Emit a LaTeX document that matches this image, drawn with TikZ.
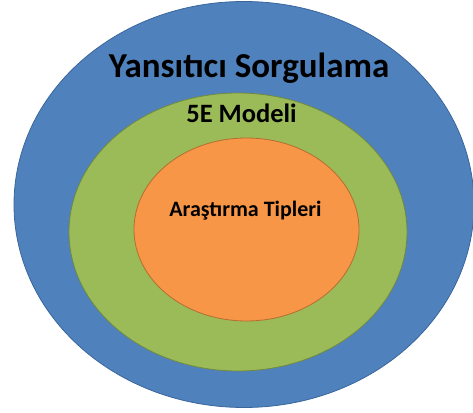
\documentclass[tikz,border=0pt]{standalone}
\usepackage{fontspec}
\setmainfont{Carlito}
\usetikzlibrary{shapes.geometric}
\definecolor{oblue}{HTML}{4F81BD}
\definecolor{oblueedge}{HTML}{3A669C}
\definecolor{ogreen}{HTML}{9BBB59}
\definecolor{ogreenedge}{HTML}{71893F}
\definecolor{oorange}{HTML}{F79646}
\definecolor{oorangeedge}{HTML}{B66D31}
\tikzset{
  ring/.style={ellipse, inner sep=0pt, line width=0.8pt},
  lbl/.style={anchor=base, inner sep=0pt, font=\bfseries, text=black}
}
\begin{document}
\begin{tikzpicture}[x=1pt,y=1pt]
\useasboundingbox (0,0) rectangle (473,412);
\node[ring, fill=oblue, draw=oblueedge, minimum width=460pt, minimum height=406pt] (outer) at (244,207.5) {};
\node[ring, fill=ogreen, draw=ogreenedge, minimum width=338pt, minimum height=278pt] (middle) at (238,180) {};
\node[ring, fill=oorange, draw=oorangeedge, minimum width=225pt, minimum height=183pt] (inner) at (246.5,182.5) {};
\node[lbl, font=\bfseries\fontsize{35}{40}\selectfont] (t1) at (249,334) {Yansıtıcı Sorgulama};
\node[lbl, font=\bfseries\fontsize{26.5}{30}\selectfont] (t2) at (241.5,289) {5E Modeli};
\node[lbl, font=\bfseries\fontsize{22}{26}\selectfont] (t3) at (245.5,195) {Araştırma Tipleri};
\end{tikzpicture}
\end{document}
